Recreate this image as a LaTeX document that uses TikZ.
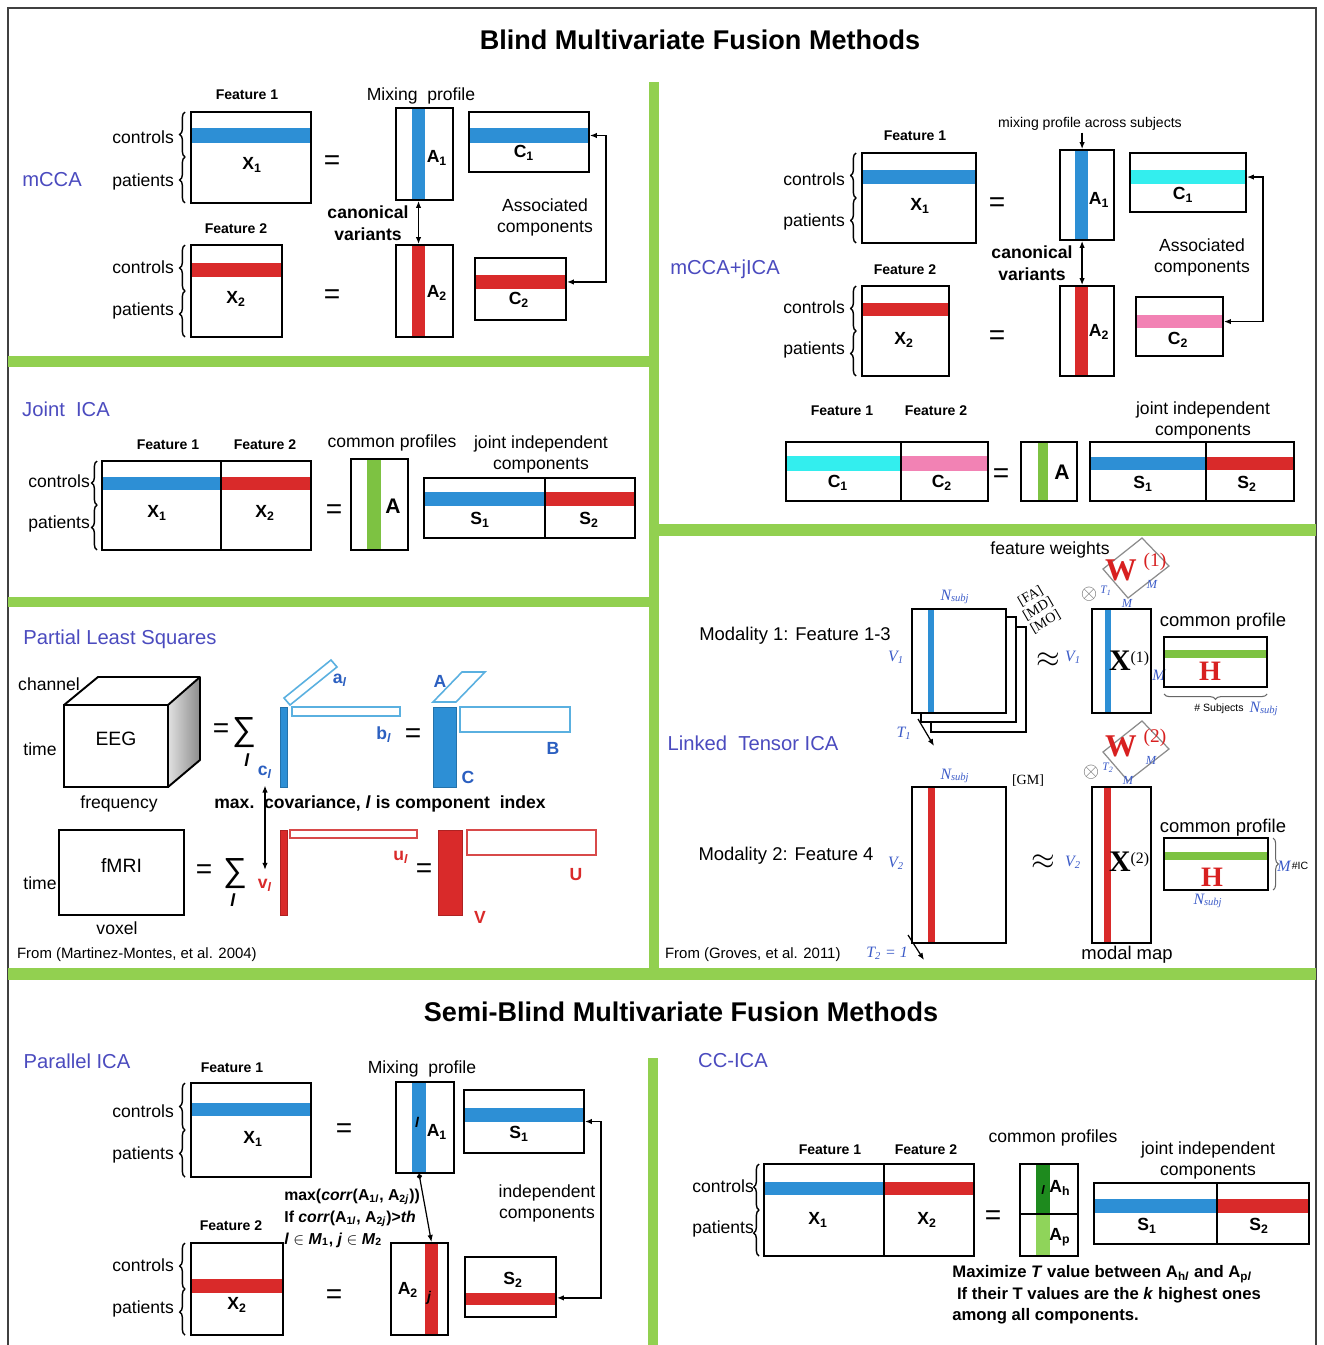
\documentclass[tikz,border=0pt]{standalone}
\usepackage{fontspec}
\setmainfont{Liberation Sans}
\newfontfamily\timesfont{Liberation Serif}
\usetikzlibrary{arrows.meta,positioning,fit,calc,decorations.pathreplacing}
\definecolor{sepgreen}{HTML}{92D050}
\definecolor{methodblue}{HTML}{4B4BBF}
\definecolor{bandblue}{HTML}{2D8FD5}
\definecolor{bandred}{HTML}{D92A2A}
\definecolor{bandcyan}{HTML}{33EEEE}
\definecolor{bandpink}{HTML}{F282B4}
\definecolor{bandgreen}{HTML}{7DC242}
\definecolor{darkgreen}{HTML}{1E8A1E}
\definecolor{lightgreen}{HTML}{8FD45A}
\definecolor{plsline}{HTML}{5AB0E0}
\definecolor{plstext}{HTML}{2B5FC0}
\definecolor{plsredline}{HTML}{D84A4A}
\definecolor{serifblue}{HTML}{3B5BC8}
\definecolor{weightred}{HTML}{D82020}
\tikzset{
mat/.style={draw=black,line width=1.1pt,inner sep=0pt},
lab/.style={font=\fontsize{10}{12}\selectfont,inner sep=1pt},
blab/.style={font=\fontsize{10}{12.5}\selectfont\bfseries,inner sep=1pt},
feat/.style={font=\fontsize{8}{10}\selectfont\bfseries,inner sep=1pt},
sub/.style={font=\fontsize{10}{12}\selectfont\bfseries,inner sep=0pt},
method/.style={font=\fontsize{11.5}{14}\selectfont,text=methodblue,inner sep=1pt},
heading/.style={font=\fontsize{15.4}{18}\selectfont\bfseries},
eqsign/.style={font=\fontsize{16}{16}\selectfont,inner sep=0pt},
duplex/.style={{Latex[length=1.4mm,width=1.1mm]}-{Latex[length=1.4mm,width=1.1mm]},line width=.7pt},
dotarrow/.style={{Circle[length=1mm]}-{Latex[length=1.4mm,width=1.1mm]},line width=.7pt},
onearrow/.style={-{Latex[length=1.4mm,width=1.1mm]},line width=.7pt},
grp/.style={decorate,decoration={brace,amplitude=3pt},line width=.8pt},
vlab/.style={font=\fontsize{10}{11}\selectfont\bfseries,inner sep=1pt},
serif/.style={font=\timesfont\itshape\fontsize{9}{10}\selectfont,text=serifblue,inner sep=0pt},
tiny/.style={font=\timesfont\itshape\fontsize{7}{8}\selectfont,text=serifblue,inner sep=0pt},
bigsum/.style={font=\fontsize{19}{19}\selectfont,inner sep=0pt},
approx/.style={font=\fontsize{18}{18}\selectfont,inner sep=0pt},
wlab/.style={font=\timesfont\bfseries\fontsize{18}{18}\selectfont,text=weightred,inner sep=0pt},
wsup/.style={font=\timesfont\fontsize{11}{11}\selectfont,text=weightred,inner sep=0pt},
xlab/.style={font=\timesfont\bfseries\fontsize{17}{17}\selectfont,inner sep=0pt},
hlab/.style={font=\timesfont\bfseries\fontsize{16}{16}\selectfont,text=weightred,inner sep=0pt},
mode/.style={font=\fontsize{10.5}{12}\selectfont,inner sep=1pt},
source/.style={font=\fontsize{8.5}{10}\selectfont,inner sep=1pt,anchor=west}}
\begin{document}
\begin{tikzpicture}[x=0.02cm,y=-0.02cm]
\fill[white] (0,0) rectangle (1324,1345);
\useasboundingbox (0,0) rectangle (1324,1345);
\draw[line width=.9pt,draw=black!75] (8,1345) -- (8,8) -- (1316,8) -- (1316,1345);
\fill[sepgreen] (649,82) rectangle (659,980);
\fill[sepgreen] (8,356) rectangle (649,367);
\fill[sepgreen] (8,597) rectangle (649,607);
\fill[sepgreen] (659,524) rectangle (1316,536);
\fill[sepgreen] (8,968) rectangle (1316,980);
\fill[sepgreen] (648,1058) rectangle (658,1345);
\node[heading] (blindtitle) at (700,40) {Blind Multivariate Fusion Methods};
\node[heading] (semititle) at (681,1012) {Semi-Blind Multivariate Fusion Methods};
\node[method] (mccaname) at (52,180) {mCCA};
\node[feat] (mccaf1) at (247,95) {Feature 1};
\node[lab,anchor=east] (mccactl1) at (176,137) {controls};
\node[lab,anchor=east] (mccapat1) at (176,182) {patients};
\draw[grp] (185,157) -- (185,112);
\draw[grp] (185,203) -- (185,157);
\fill[bandblue] (191,128) rectangle (311,143);
\node[mat,fit={(191,112) (311,203)}] (mccax1) {};
\node[sub] (mccax1lab) at (252,165) {X\textsubscript{1}};
\node[eqsign] (mccaeq1) at (332,163) {=};
\node[lab] (mccamix) at (421,96) {Mixing\ \ profile};
\fill[bandblue] (412,108) rectangle (425,200);
\node[mat,fit={(396,108) (453,200)}] (mccaa1) {};
\node[sub] (mccaa1lab) at (437,158) {A\textsubscript{1}};
\fill[bandblue] (469,128) rectangle (589,143);
\node[mat,fit={(469,112) (589,172)}] (mccac1) {};
\node[sub] (mccac1lab) at (524,153) {C\textsubscript{1}};
\node[blab,align=center] (mccacan) at (368,223) {canonical\\variants};
\node[lab,align=center] (mccaassoc) at (545,217) {Associated\\components};
\node[feat] (mccaf2) at (236,229) {Feature 2};
\node[lab,anchor=east] (mccactl2) at (176,267) {controls};
\node[lab,anchor=east] (mccapat2) at (176,311) {patients};
\draw[grp] (185,291) -- (185,245);
\draw[grp] (185,337) -- (185,291);
\fill[bandred] (191,263) rectangle (282,277);
\node[mat,fit={(191,245) (282,337)}] (mccax2) {};
\node[sub] (mccax2lab) at (236,299) {X\textsubscript{2}};
\node[eqsign] (mccaeq2) at (332,297) {=};
\fill[bandred] (412,245) rectangle (425,337);
\node[mat,fit={(396,245) (453,337)}] (mccaa2) {};
\node[sub] (mccaa2lab) at (437,293) {A\textsubscript{2}};
\fill[bandred] (475,275) rectangle (566,289);
\node[mat,fit={(475,258) (566,320)}] (mccac2) {};
\node[sub] (mccac2lab) at (519,300) {C\textsubscript{2}};
\draw[duplex] ([xshift=-3.4pt]mccaa1.south) -- ([xshift=-3.4pt]mccaa2.north);
\draw[duplex] ([yshift=3.7pt]mccac1.east) -- ++(16,0) |- ([yshift=4pt]mccac2.east);
\node[method] (jmccaname) at (725,269) {mCCA+jICA};
\node[feat] (jmccaf1) at (915,136) {Feature 1};
\node[lab,anchor=east] (jmccactl1) at (847,179) {controls};
\node[lab,anchor=east] (jmccapat1) at (847,222) {patients};
\draw[grp] (856,198) -- (856,153);
\draw[grp] (856,243) -- (856,198);
\fill[bandblue] (862,170) rectangle (976,184);
\node[mat,fit={(862,153) (976,243)}] (jmccax1) {};
\node[sub] (jmccax1lab) at (920,206) {X\textsubscript{1}};
\node[eqsign] (jmccaeq1) at (997,205) {=};
\node[font=\fontsize{8}{10}\selectfont,inner sep=1pt] (jmccamix) at (1090,124) {mixing profile across subjects};
\fill[bandblue] (1075,150) rectangle (1088,240);
\node[mat,fit={(1060,150) (1114,240)}] (jmccaa1) {};
\node[sub] (jmccaa1lab) at (1099,200) {A\textsubscript{1}};
\fill[bandcyan] (1130,170) rectangle (1246,184);
\node[mat,fit={(1130,153) (1246,212)}] (jmccac1) {};
\node[sub] (jmccac1lab) at (1183,195) {C\textsubscript{1}};
\node[blab,align=center] (jmccacan) at (1032,263) {canonical\\variants};
\node[lab,align=center] (jmccaassoc) at (1202,257) {Associated\\components};
\node[feat] (jmccaf2) at (905,270) {Feature 2};
\node[lab,anchor=east] (jmccactl2) at (847,307) {controls};
\node[lab,anchor=east] (jmccapat2) at (847,350) {patients};
\draw[grp] (856,331) -- (856,286);
\draw[grp] (856,376) -- (856,331);
\fill[bandred] (862,303) rectangle (949,316);
\node[mat,fit={(862,286) (949,376)}] (jmccax2) {};
\node[sub] (jmccax2lab) at (904,340) {X\textsubscript{2}};
\node[eqsign] (jmccaeq2) at (997,338) {=};
\fill[bandred] (1075,286) rectangle (1088,376);
\node[mat,fit={(1060,286) (1114,376)}] (jmccaa2) {};
\node[sub] (jmccaa2lab) at (1099,332) {A\textsubscript{2}};
\fill[bandpink] (1136,315) rectangle (1223,328);
\node[mat,fit={(1136,297) (1223,356)}] (jmccac2) {};
\node[sub] (jmccac2lab) at (1178,340) {C\textsubscript{2}};
\draw[onearrow] ([xshift=-4.5pt]jmccamix.south) -- ([xshift=-4.5pt]jmccamix.south |- jmccaa1.north);
\draw[duplex] ([xshift=-2.8pt]jmccaa1.south) -- ([xshift=-2.8pt]jmccaa2.north);
\draw[duplex] ([yshift=3.1pt]jmccac1.east) -- ++(16,0) |- ([yshift=2.8pt]jmccac2.east);
\node[feat] (jmccaf1b) at (842,411) {Feature 1};
\node[feat] (jmccaf2b) at (936,411) {Feature 2};
\fill[bandcyan] (786,456) rectangle (901,471);
\fill[bandpink] (901,456) rectangle (988,471);
\node[mat,fit={(786,442) (988,501)}] (jmccac) {};
\draw[line width=1.1pt] (901,442) -- (901,501);
\node[sub] (jmccac1b) at (838,483) {C\textsubscript{1}};
\node[sub] (jmccac2b) at (942,483) {C\textsubscript{2}};
\node[eqsign] (jmccaeq3) at (1001,476) {=};
\fill[bandgreen] (1038,442) rectangle (1048,501);
\node[mat,fit={(1021,442) (1077,501)}] (jmccaa) {};
\node[sub,font=\fontsize{12}{14}\selectfont\bfseries] (jmccaalab) at (1062,472) {A};
\node[lab,align=center] (jmccajoint) at (1203,420) {joint independent\\components};
\fill[bandblue] (1090,457) rectangle (1206,470);
\fill[bandred] (1206,457) rectangle (1294,470);
\node[mat,fit={(1090,442) (1294,501)}] (jmccas) {};
\draw[line width=1.1pt] (1206,442) -- (1206,501);
\node[sub] (jmccas1) at (1143,484) {S\textsubscript{1}};
\node[sub] (jmccas2) at (1247,484) {S\textsubscript{2}};
\node[method] (jicaname) at (66,409) {Joint\ \ ICA};
\node[feat] (jicaf1) at (168,445) {Feature 1};
\node[feat] (jicaf2) at (265,445) {Feature 2};
\node[lab,anchor=east] (jicactl) at (92,481) {controls};
\node[lab,anchor=east] (jicapat) at (92,524) {patients};
\draw[grp] (97,505) -- (97,461);
\draw[grp] (97,550) -- (97,505);
\fill[bandblue] (102,477) rectangle (221,490);
\fill[bandred] (221,477) rectangle (311,490);
\node[mat,fit={(102,461) (311,550)}] (jicax) {};
\draw[line width=1.1pt] (221,461) -- (221,550);
\node[sub] (jicax1) at (157,513) {X\textsubscript{1}};
\node[sub] (jicax2) at (265,513) {X\textsubscript{2}};
\node[eqsign] (jicaeq) at (334,512) {=};
\node[lab] (jicacommon) at (392,443) {common profiles};
\fill[bandgreen] (367,459) rectangle (381,550);
\node[mat,fit={(351,459) (408,550)}] (jicaa) {};
\node[sub,font=\fontsize{12}{14}\selectfont\bfseries] (jicaalab) at (393,506) {A};
\node[lab,align=center] (jicajoint) at (541,454) {joint independent\\components};
\fill[bandblue] (424,492) rectangle (545,506);
\fill[bandred] (545,492) rectangle (635,506);
\node[mat,fit={(424,478) (635,538)}] (jicas) {};
\draw[line width=1.1pt] (545,478) -- (545,538);
\node[sub] (jicas1) at (480,520) {S\textsubscript{1}};
\node[sub] (jicas2) at (589,520) {S\textsubscript{2}};
\node[method] (plsname) at (120,639) {Partial Least Squares};
\shade[left color=black!12,right color=black!45] (168,705) -- (200,677) -- (200,760) -- (168,787) -- cycle;
\draw[line width=1.1pt,line join=round] (64,705) -- (98,677) -- (200,677) -- (200,760) -- (168,787);
\draw[line width=1.1pt] (168,705) -- (200,677);
\node[mat,fit={(64,705) (168,787)},font=\fontsize{11}{13}\selectfont] (eeg) {EEG};
\node[lab] (plschannel) at (49,684) {channel};
\node[lab] (plstime1) at (40,749) {time};
\node[lab] (plsfreq) at (119,804) {frequency};
\node[eqsign] (plseq1) at (221,731) {=};
\node[bigsum] (plssum1) at (244,733) {∑};
\node[vlab] (plsidx1) at (247,760) {\textit{l}};
\node[fill=bandblue,draw=bandblue!80!black,line width=.5pt,inner sep=0pt,fit={(280,707) (287,787)}] (plsc) {};
\draw[plsline,fill=white,line width=.9pt] (284,698) -- (331,660) -- (337,667) -- (290,705) -- cycle;
\node[draw=plsline,line width=.9pt,inner sep=0pt,fit={(292,707) (400,716)}] (plsb) {};
\node[vlab,text=plstext] (plsal) at (340,680) {a\textsubscript{\itshape l}};
\node[vlab,text=plstext] (plsbl) at (384,735) {b\textsubscript{\itshape l}};
\node[vlab,text=plstext] (plscl) at (265,772) {c\textsubscript{\itshape l}};
\node[eqsign] (plseq2) at (413,736) {=};
\node[fill=bandblue,draw=bandblue!80!black,line width=.5pt,inner sep=0pt,fit={(433,707) (456,787)}] (plscbig) {};
\draw[plsline,line width=.9pt] (433,702) -- (456,702) -- (485,672) -- (462,672) -- cycle;
\node[draw=plsline,line width=.9pt,inner sep=0pt,fit={(460,707) (570,732)}] (plsbbig) {};
\node[vlab,text=plstext] (plsalab) at (440,681) {A};
\node[vlab,text=plstext] (plsblab) at (553,748) {B};
\node[vlab,text=plstext] (plsclab) at (468,777) {C};
\node[blab] (plsmax) at (380,804) {max.\ \ covariance, \textit{l} is component\ \ index};
\node[mat,fit={(59,830) (184,915)},font=\fontsize{11}{13}\selectfont] (fmri) {fMRI};
\node[lab] (plstime2) at (40,883) {time};
\node[lab] (plsvoxel) at (117,928) {voxel};
\node[eqsign] (plseq3) at (204,872) {=};
\node[bigsum] (plssum2) at (235,874) {∑};
\node[vlab] (plsidx2) at (233,900) {\textit{l}};
\node[fill=bandred,draw=bandred!80!black,line width=.5pt,inner sep=0pt,fit={(280,830) (287,915)}] (plsv) {};
\node[draw=plsredline,line width=.9pt,inner sep=0pt,fit={(290,830) (417,838)}] (plsu) {};
\node[vlab,text=bandred] (plsvl) at (265,885) {v\textsubscript{\itshape l}};
\node[vlab,text=bandred] (plsul) at (401,857) {u\textsubscript{\itshape l}};
\node[eqsign] (plseq4) at (424,871) {=};
\node[fill=bandred,draw=bandred!80!black,line width=.5pt,inner sep=0pt,fit={(438,830) (462,915)}] (plsvbig) {};
\node[draw=plsredline,line width=.9pt,inner sep=0pt,fit={(467,830) (596,855)}] (plsubig) {};
\node[vlab,text=bandred] (plsvlab) at (480,917) {V};
\node[vlab,text=bandred] (plsulab) at (576,875) {U};
\draw[duplex] ([yshift=-3pt]plscl.south) -- ([yshift=4pt]plsvl.north);
\node[source] (plssource) at (15,955) {From (Martinez-Montes, et al. 2004)};
\node[lab] (ltweights) at (1050,550) {feature weights};
\node[mode] (ltmod1) at (795,636) {Modality 1: Feature 1-3};
\node[method] (ltname) at (753,743) {Linked\ \ Tensor ICA};
\node[mat,fill=white,fit={(931,627) (1026,732)}] (ltstackc) {};
\node[mat,fill=white,fit={(921,617) (1016,722)}] (ltstackb) {};
\fill[white] (912,609) rectangle (1006,713);
\fill[bandblue] (928,609) rectangle (934,713);
\node[mat,fit={(912,609) (1006,713)}] (ltstacka) {};
\node[serif] (ltn1) at (955,597) {N\textsubscript{subj}};
\node[serif] (ltv1) at (896,657) {V\textsubscript{1}};
\node[serif] (ltt1) at (904,733) {T\textsubscript{1}};
\coordinate (ltt1start) at (918,719);
\coordinate (ltt1end) at (934,746);
\draw[onearrow] (ltt1start) -- (ltt1end);
\node[font=\timesfont\fontsize{8}{8.5}\selectfont,rotate=30,align=center,inner sep=0pt] (ltstacklab) at (1038,609) {[FA]\\{}[MD]\\{}[MO]};
\node[approx] (ltapprox1) at (1048,660) {$\approx$};
\node[serif] (ltv1b) at (1073,657) {V\textsubscript{1}};
\fill[bandblue] (1105,609) rectangle (1111,713);
\node[mat,fit={(1092,609) (1151,713)}] (ltx1) {};
\node[xlab] (ltx1lab) at (1129,661) {X{\mdseries\fontsize{9}{9}\selectfont\raisebox{5pt}{(1)}}};
\node[serif] (ltm1) at (1159,675) {M};
\draw[black!45,line width=.7pt] (1142,538) -- (1169,566) -- (1128,598) -- (1103,569) -- cycle;
\node[wlab] (ltw1) at (1121,570) {W};
\node[wsup] (ltw1sup) at (1155,562) {(1)};
\node[tiny] (ltw1m) at (1152,584) {M};
\node[tiny] (ltw1mb) at (1127,603) {M};
\node[font=\fontsize{13}{13}\selectfont,text=black!60,inner sep=0pt] (ltotimes1) at (1089,594) {$\otimes$};
\node[tiny,font=\timesfont\itshape\fontsize{6.5}{7}\selectfont] (ltw1t) at (1106,591) {T\textsubscript{1}};
\node[mode] (ltcommon1) at (1223,622) {common profile};
\fill[bandgreen] (1164,650) rectangle (1267,658);
\node[mat,fit={(1164,637) (1267,687)}] (lth1) {};
\node[hlab] (lth1lab) at (1210,671) {H};
\draw[grp,line width=.6pt,black!60] (1267,694) -- (1164,694);
\node[font=\fontsize{6}{7}\selectfont,inner sep=0pt] (ltsubjects) at (1219,709) {\# Subjects};
\node[serif] (ltn1b) at (1264,709) {N\textsubscript{subj}};
\node[mode] (ltmod2) at (786,856) {Modality 2: Feature 4};
\fill[bandred] (928,787) rectangle (935,943);
\node[mat,fit={(912,787) (1006,943)}] (ltbig) {};
\node[serif] (ltn2) at (955,776) {N\textsubscript{subj}};
\node[font=\timesfont\fontsize{8}{9}\selectfont,inner sep=0pt] (ltgm) at (1028,781) {[GM]};
\node[serif] (ltv2) at (896,863) {V\textsubscript{2}};
\node[serif] (ltt2) at (887,953) {T\textsubscript{2} = 1};
\coordinate (ltt2start) at (908,935);
\coordinate (ltt2end) at (924,960);
\draw[onearrow] (ltt2start) -- (ltt2end);
\node[approx] (ltapprox2) at (1043,862) {$\approx$};
\node[serif] (ltv2b) at (1073,862) {V\textsubscript{2}};
\fill[bandred] (1104,787) rectangle (1111,943);
\node[mat,fit={(1092,787) (1151,943)}] (ltx2) {};
\node[xlab] (ltx2lab) at (1129,862) {X{\mdseries\fontsize{9}{9}\selectfont\raisebox{5pt}{(2)}}};
\draw[black!45,line width=.7pt] (1142,721) -- (1169,749) -- (1128,781) -- (1103,752) -- cycle;
\node[wlab] (ltw2) at (1121,746) {W};
\node[wsup] (ltw2sup) at (1155,738) {(2)};
\node[tiny] (ltw2m) at (1151,760) {M};
\node[tiny] (ltw2mb) at (1128,780) {M};
\node[font=\fontsize{13}{13}\selectfont,text=black!60,inner sep=0pt] (ltotimes2) at (1091,772) {$\otimes$};
\node[tiny,font=\timesfont\itshape\fontsize{6.5}{7}\selectfont] (ltw2t) at (1108,768) {T\textsubscript{2}};
\node[mode] (ltmodal) at (1127,955) {modal map};
\node[mode] (ltcommon2) at (1223,828) {common profile};
\fill[bandgreen] (1164,852) rectangle (1268,860);
\node[mat,fit={(1164,838) (1268,890)}] (lth2) {};
\node[hlab] (lth2lab) at (1212,877) {H};
\draw[grp,line width=.6pt,black!60] (1273,838) -- (1273,890);
\node[serif] (ltm2) at (1284,866) {M};
\node[font=\fontsize{6}{7}\selectfont,inner sep=0pt] (ltic) at (1300,866) {\#IC};
\node[serif] (ltn2b) at (1208,901) {N\textsubscript{subj}};
\node[source] (ltsource) at (663,955) {From (Groves, et al. 2011)};
\node[method] (parname) at (77,1061) {Parallel ICA};
\node[feat] (parf1) at (232,1068) {Feature 1};
\node[lab,anchor=east] (parctl1) at (176,1111) {controls};
\node[lab,anchor=east] (parpat1) at (176,1155) {patients};
\draw[grp] (185,1130) -- (185,1083);
\draw[grp] (185,1177) -- (185,1130);
\fill[bandblue] (191,1103) rectangle (311,1116);
\node[mat,fit={(191,1083) (311,1177)}] (parx1) {};
\node[sub] (parx1lab) at (253,1139) {X\textsubscript{1}};
\node[eqsign] (pareq1) at (344,1131) {=};
\node[lab] (parmix) at (422,1069) {Mixing\ \ profile};
\fill[bandblue] (412,1082) rectangle (426,1173);
\node[mat,fit={(396,1082) (454,1173)}] (para1) {};
\node[font=\fontsize{8}{9}\selectfont\bfseries\itshape,inner sep=0pt] (para1idx) at (417,1122) {l};
\node[sub] (para1lab) at (437,1132) {A\textsubscript{1}};
\fill[bandblue] (464,1108) rectangle (584,1122);
\node[mat,fit={(464,1090) (584,1153)}] (pars1) {};
\node[sub] (pars1lab) at (519,1134) {S\textsubscript{1}};
\node[lab,align=center] (parindep) at (547,1203) {independent\\components};
\node[font=\fontsize{9}{12.5}\selectfont\bfseries,align=left,anchor=west,inner sep=0pt] (parrule) at (284,1218) {max(\textit{corr}(A\textsubscript{1\textit{l}}, A\textsubscript{2\textit{j}}))\\If \textit{corr}(A\textsubscript{1\textit{l}}, A\textsubscript{2\textit{j}})>\textit{th}\\\textit{l} $\in$ \textit{M}\textsubscript{1}, \textit{j} $\in$ \textit{M}\textsubscript{2}};
\node[feat] (parf2) at (231,1226) {Feature 2};
\node[lab,anchor=east] (parctl2) at (176,1265) {controls};
\node[lab,anchor=east] (parpat2) at (176,1309) {patients};
\draw[grp] (185,1289) -- (185,1243);
\draw[grp] (185,1335) -- (185,1289);
\fill[bandred] (191,1279) rectangle (283,1293);
\node[mat,fit={(191,1243) (283,1335)}] (parx2) {};
\node[sub] (parx2lab) at (237,1305) {X\textsubscript{2}};
\node[eqsign] (pareq2) at (334,1297) {=};
\fill[bandred] (425,1243) rectangle (438,1335);
\node[mat,fit={(391,1243) (448,1335)}] (para2) {};
\node[sub] (para2lab) at (408,1290) {A\textsubscript{2}};
\node[font=\fontsize{8}{9}\selectfont\bfseries\itshape,inner sep=0pt] (para2idx) at (429,1298) {j};
\fill[bandred] (465,1293) rectangle (556,1305);
\node[mat,fit={(465,1257) (556,1317)}] (pars2) {};
\node[sub] (pars2lab) at (513,1280) {S\textsubscript{2}};
\draw[dotarrow] ([xshift=-3.4pt]para1.south) -- ([xshift=6.8pt]para2.north);
\draw[duplex] (pars1.east) -- ++(16,0) |- ([yshift=-6.2pt]pars2.east);
\node[method] (ccname) at (733,1061) {CC-ICA};
\node[feat] (ccf1) at (830,1150) {Feature 1};
\node[feat] (ccf2) at (926,1150) {Feature 2};
\node[lab,anchor=east] (ccctl) at (756,1186) {controls};
\node[lab,anchor=east] (ccpat) at (756,1229) {patients};
\draw[grp] (759,1210) -- (759,1164);
\draw[grp] (759,1256) -- (759,1210);
\fill[bandblue] (764,1182) rectangle (884,1195);
\fill[bandred] (884,1182) rectangle (974,1195);
\node[mat,fit={(764,1164) (974,1256)}] (ccx) {};
\draw[line width=1.1pt] (884,1164) -- (884,1256);
\node[sub] (ccx1) at (818,1220) {X\textsubscript{1}};
\node[sub] (ccx2) at (927,1220) {X\textsubscript{2}};
\node[eqsign] (cceq) at (993,1218) {=};
\node[lab] (cccommon) at (1053,1138) {common profiles};
\fill[darkgreen] (1036,1164) rectangle (1050,1214);
\fill[lightgreen] (1036,1214) rectangle (1050,1256);
\node[mat,fit={(1020,1164) (1078,1256)}] (cca) {};
\draw[line width=1.1pt] (1020,1214) -- (1078,1214);
\node[font=\fontsize{7}{8}\selectfont\bfseries\itshape,inner sep=0pt] (ccaidx) at (1043,1190) {l};
\node[sub] (ccah) at (1060,1188) {A\textsubscript{h}};
\node[sub] (ccap) at (1060,1237) {A\textsubscript{p}};
\node[lab,align=center] (ccjoint) at (1208,1160) {joint independent\\components};
\fill[bandblue] (1094,1199) rectangle (1217,1213);
\fill[bandred] (1217,1199) rectangle (1309,1213);
\node[mat,fit={(1094,1183) (1309,1244)}] (ccs) {};
\draw[line width=1.1pt] (1217,1183) -- (1217,1244);
\node[sub] (ccs1) at (1147,1226) {S\textsubscript{1}};
\node[sub] (ccs2) at (1259,1226) {S\textsubscript{2}};
\node[font=\fontsize{9.5}{12.2}\selectfont\bfseries,align=left,anchor=west,inner sep=0pt] (ccrule) at (952,1295) {Maximize \textit{T} value between A\textsubscript{h\textit{l}} and A\textsubscript{p\textit{l}}\\\ If their T values are the \textit{k} highest ones\\among all components.};
\end{tikzpicture}
\end{document}
